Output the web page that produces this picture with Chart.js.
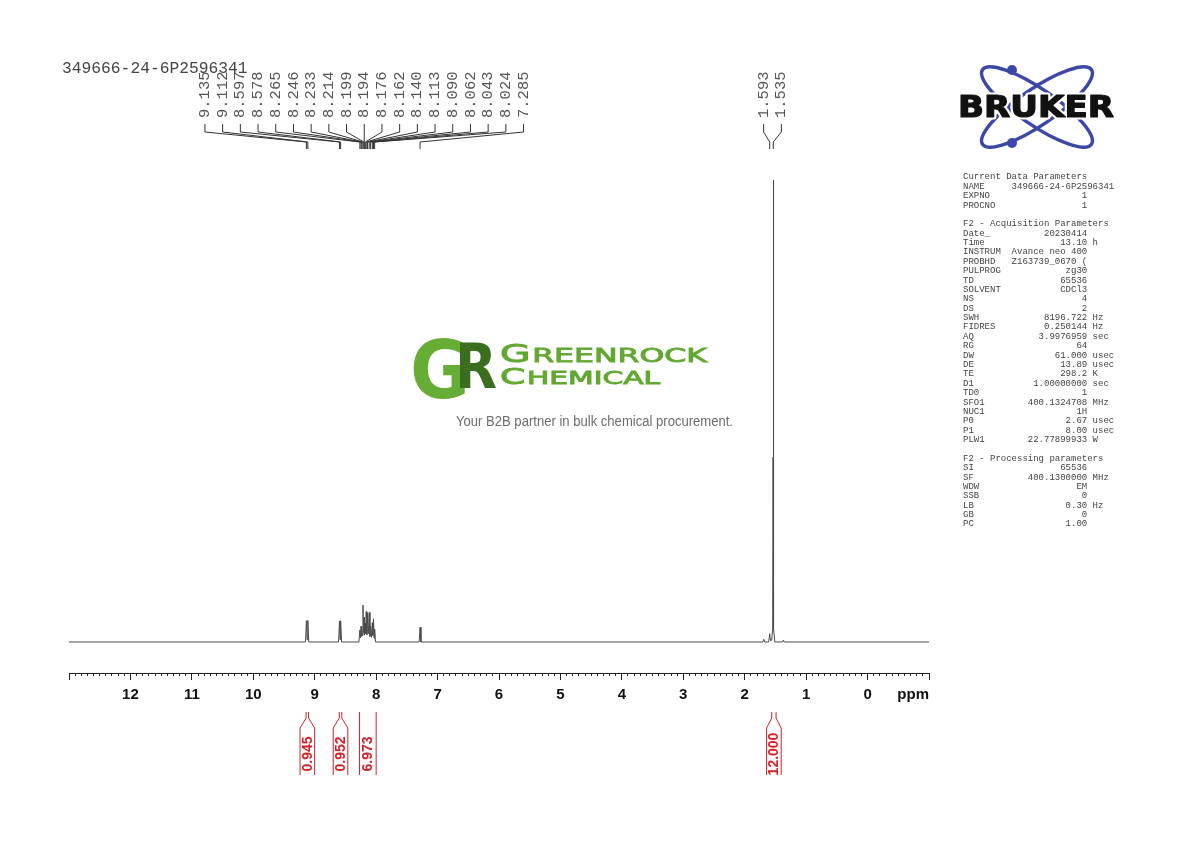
<!DOCTYPE html>
<html>
<head>
<meta charset="utf-8">
<script src="https://cdn.jsdelivr.net/npm/chart.js@4.4.1/dist/chart.umd.min.js"></script>
<style>
  html, body { margin: 0; padding: 0; background: #fff; }
  #spectrum { display: block; }
</style>
</head>
<body>
<canvas id="spectrum" width="1190" height="842"></canvas>
<script>
const sampleName = '349666-24-6P2596341';

// spectrum trace (ppm, relative intensity)
const specPpm = [
  13.0,
  9.150, 9.135, 9.124, 9.112, 9.097,
  8.612, 8.597, 8.588, 8.578, 8.563,
  8.280, 8.265, 8.255, 8.246, 8.240, 8.233, 8.224, 8.214, 8.206, 8.199,
  8.197, 8.194, 8.185, 8.176, 8.169, 8.162, 8.151, 8.140, 8.127, 8.113,
  8.101, 8.090, 8.076, 8.062, 8.052, 8.043, 8.033, 8.024, 8.010,
  7.300, 7.285, 7.270,
  1.705, 1.690, 1.675,
  1.610, 1.593, 1.580, 1.560, 1.545, 1.538, 1.535, 1.532, 1.525, 1.510,
  1.385, 1.370, 1.355,
  -1.0
];
const specInt = [
  0,
  0, 4.6, 0.5, 4.7, 0,
  0, 4.5, 0.5, 4.6, 0,
  0, 2.6, 0.9, 3.4, 1.2, 3.1, 1.4, 8.0, 2.0, 5.0,
  4.6, 5.4, 1.5, 4.0, 1.8, 6.6, 1.6, 6.2, 1.8, 6.4,
  1.2, 3.5, 1.0, 4.2, 1.4, 5.0, 0.8, 2.8, 0,
  0, 3.2, 0,
  0, 0.6, 0,
  0, 1.8, 0.3, 0.4, 3.0, 40, 100, 40, 3.0, 0,
  0, 0.4, 0,
  0
];

// peak picking labels, one list per label group
const peakGroupA = ['9.135', '9.112', '8.597', '8.578', '8.265', '8.246', '8.233', '8.214', '8.199',
  '8.194', '8.176', '8.162', '8.140', '8.113', '8.090', '8.062', '8.043', '8.024', '7.285'];
const peakGroupB = ['1.593', '1.535'];

// integrals
const intFrom = [9.14, 8.60, 8.27, 1.56];
const intTo = [9.10, 8.56, 8.00, 1.49];
const intValue = ['0.945', '0.952', '6.973', '12.000'];

// axis
const ppmMin = -1;
const ppmMax = 13;

// parameter panel
const paramLines = [
  ['Current Data Parameters'],
  ['NAME', sampleName],
  ['EXPNO', '1'],
  ['PROCNO', '1'],
  [],
  ['F2 - Acquisition Parameters'],
  ['Date_', '20230414'],
  ['Time', '13.10', 'h'],
  ['INSTRUM', 'Avance neo 400'],
  ['PROBHD', 'Z163739_0670 ('],
  ['PULPROG', 'zg30'],
  ['TD', '65536'],
  ['SOLVENT', 'CDCl3'],
  ['NS', '4'],
  ['DS', '2'],
  ['SWH', '8196.722', 'Hz'],
  ['FIDRES', '0.250144', 'Hz'],
  ['AQ', '3.9976959', 'sec'],
  ['RG', '64'],
  ['DW', '61.000', 'usec'],
  ['DE', '13.89', 'usec'],
  ['TE', '298.2', 'K'],
  ['D1', '1.00000000', 'sec'],
  ['TD0', '1'],
  ['SFO1', '400.1324708', 'MHz'],
  ['NUC1', '1H'],
  ['P0', '2.67', 'usec'],
  ['P1', '8.00', 'usec'],
  ['PLW1', '22.77899933', 'W'],
  [],
  ['F2 - Processing parameters'],
  ['SI', '65536'],
  ['SF', '400.1300000', 'MHz'],
  ['WDW', 'EM'],
  ['SSB', '0'],
  ['LB', '0.30', 'Hz'],
  ['GB', '0'],
  ['PC', '1.00']
];

const MONO = '"Liberation Mono", "DejaVu Sans Mono", monospace';
const SANS = '"Liberation Sans", Arial, sans-serif';

const drawPeakGroup = (ctx, xs, labels) => {
  const gap = 17.7;
  const px = labels.map((l) => xs.getPixelForValue(parseFloat(l)));
  const mid = (px[0] + px[px.length - 1]) / 2 + 1;
  const start = mid - gap * (labels.length - 1) / 2;
  ctx.strokeStyle = '#333';
  ctx.lineWidth = 1;
  ctx.fillStyle = '#555';
  ctx.font = '15.5px ' + MONO;
  labels.forEach((l, i) => {
    const lx = start + i * gap;
    ctx.save();
    ctx.translate(lx, 118);
    ctx.rotate(-Math.PI / 2);
    ctx.textAlign = 'left';
    ctx.textBaseline = 'middle';
    ctx.fillText(l, 0, 0);
    ctx.restore();
    ctx.beginPath();
    ctx.moveTo(lx, 124);
    ctx.lineTo(lx, 132);
    ctx.lineTo(px[i], 142);
    ctx.lineTo(px[i], 149);
    ctx.stroke();
  });
};

const drawIntegrals = (ctx, xs) => {
  ctx.strokeStyle = '#d41f26';
  ctx.fillStyle = '#d41f26';
  ctx.lineWidth = 1;
  ctx.font = 'bold 14px ' + SANS;
  intFrom.forEach((f, i) => {
    const a = xs.getPixelForValue(f);
    const b = xs.getPixelForValue(intTo[i]);
    const c = (a + b) / 2;
    const half = Math.max(7.3, (b - a) / 2);
    ctx.beginPath();
    if ((b - a) / 2 < 7.3) {
      ctx.moveTo(a, 712); ctx.lineTo(a, 718); ctx.lineTo(c - half, 728); ctx.lineTo(c - half, 775);
      ctx.moveTo(b, 712); ctx.lineTo(b, 718); ctx.lineTo(c + half, 728); ctx.lineTo(c + half, 775);
    } else {
      ctx.moveTo(a, 712); ctx.lineTo(a, 775);
      ctx.moveTo(b, 712); ctx.lineTo(b, 775);
    }
    ctx.stroke();
    ctx.save();
    ctx.translate(c + 0.5, 754);
    ctx.rotate(-Math.PI / 2);
    ctx.textAlign = 'center';
    ctx.textBaseline = 'middle';
    ctx.fillText(intValue[i], 0, 0);
    ctx.restore();
  });
};

const drawParams = (ctx) => {
  ctx.fillStyle = '#444';
  ctx.font = '9px ' + MONO;
  ctx.textAlign = 'left';
  ctx.textBaseline = 'middle';
  paramLines.forEach((p, i) => {
    if (!p.length) return;
    let s = p[0];
    if (p.length > 1) {
      s = p[1].length > 15 ? p[0].padEnd(9) + p[1] : p[0].padEnd(8) + p[1].padStart(15);
      if (p[2]) s += ' ' + p[2];
    }
    ctx.fillText(s, 963, 177 + i * 9.38);
  });
};

const fitText = (ctx, text, x, y, width) => {
  const w = ctx.measureText(text).width;
  ctx.save();
  ctx.translate(x, y);
  ctx.scale(width / w, 1);
  ctx.fillText(text, 0, 0);
  ctx.restore();
};

const drawCaps = (ctx, first, rest, x, y, bigSize, smallSize, width, color) => {
  ctx.font = bigSize + 'px "DejaVu Sans"';
  const w1 = ctx.measureText(first).width;
  ctx.font = smallSize + 'px "DejaVu Sans"';
  const w2 = ctx.measureText(rest).width;
  const k = width / (w1 + w2 + 1);
  ctx.save();
  ctx.fillStyle = color;
  ctx.strokeStyle = color;
  ctx.lineWidth = 0.9;
  ctx.translate(x, y);
  ctx.scale(k, 1);
  ctx.font = bigSize + 'px "DejaVu Sans"';
  ctx.fillText(first, 0, 0);
  ctx.strokeText(first, 0, 0);
  ctx.font = smallSize + 'px "DejaVu Sans"';
  ctx.fillText(rest, w1 + 1, 0);
  ctx.strokeText(rest, w1 + 1, 0);
  ctx.restore();
};

const drawWatermark = (ctx) => {
  ctx.save();
  ctx.textAlign = 'left';
  ctx.textBaseline = 'alphabetic';
  ctx.fillStyle = '#66ad35';
  ctx.font = 'bold 80px "DejaVu Sans"';
  fitText(ctx, 'G', 410, 398, 60);
  ctx.fillStyle = '#3c6e20';
  ctx.font = 'bold 63px "DejaVu Sans"';
  fitText(ctx, 'R', 455, 388, 42);
  drawCaps(ctx, 'G', 'REENROCK', 500, 362, 25, 20, 207, '#62a832');
  drawCaps(ctx, 'C', 'HEMICAL', 500, 384, 22, 18, 160, '#62a832');
  ctx.fillStyle = '#6d6d6d';
  ctx.font = '14px ' + SANS;
  fitText(ctx, 'Your B2B partner in bulk chemical procurement.', 456, 426, 277);
  ctx.restore();
};

const drawBruker = (ctx) => {
  ctx.save();
  ctx.strokeStyle = '#3b48a8';
  ctx.lineWidth = 3.5;
  [0.6, -0.6].forEach((r) => {
    ctx.beginPath();
    ctx.ellipse(1037, 107, 66, 18, r, 0, Math.PI * 2);
    ctx.stroke();
  });
  ctx.fillStyle = '#3b48a8';
  [[1012, 70], [1012, 143]].forEach(([x, y]) => {
    ctx.beginPath();
    ctx.arc(x, y, 5, 0, Math.PI * 2);
    ctx.fill();
  });
  ctx.font = 'bold 30px "DejaVu Sans"';
  ctx.textBaseline = 'alphabetic';
  const w = ctx.measureText('BRUKER').width;
  ctx.translate(958, 117);
  ctx.scale(156 / w, 1);
  ctx.lineJoin = 'round';
  ctx.strokeStyle = '#fff';
  ctx.lineWidth = 5;
  ctx.strokeText('BRUKER', 0, 0);
  ctx.fillStyle = '#111';
  ctx.strokeStyle = '#111';
  ctx.lineWidth = 1.2;
  ctx.fillText('BRUKER', 0, 0);
  ctx.strokeText('BRUKER', 0, 0);
  ctx.restore();
};

const overlay = {
  id: 'overlay',
  afterDraw(chart) {
    const ctx = chart.ctx;
    const xs = chart.scales.x;
    ctx.save();
    // title
    ctx.fillStyle = '#444';
    ctx.font = '16.3px ' + MONO;
    ctx.textBaseline = 'alphabetic';
    ctx.fillText(sampleName, 62, 73);
    drawPeakGroup(ctx, xs, peakGroupA);
    drawPeakGroup(ctx, xs, peakGroupB);
    drawIntegrals(ctx, xs);
    // unit label next to the tick labels
    ctx.fillStyle = '#111';
    ctx.font = 'bold 15px ' + SANS;
    ctx.textAlign = 'right';
    ctx.textBaseline = 'middle';
    ctx.fillText('ppm', xs.right, 695);
    ctx.textAlign = 'left';
    drawParams(ctx);
    drawWatermark(ctx);
    drawBruker(ctx);
    ctx.restore();
  }
};

const points = specPpm.map((p, i) => ({ x: p, y: specInt[i] }));

new Chart(document.getElementById('spectrum'), {
  type: 'scatter',
  data: {
    datasets: [{
      data: points,
      showLine: true,
      borderColor: '#4a4a4a',
      borderWidth: 1,
      pointRadius: 0,
      clip: false,
    }],
  },
  options: {
    responsive: false,
    maintainAspectRatio: false,
    animation: false,
    layout: { padding: { left: 69, right: 261, top: 180, bottom: 0 } },
    scales: {
      x: {
        type: 'linear',
        position: 'bottom',
        min: ppmMin,
        max: ppmMax,
        reverse: true,
        weight: 1,
        afterFit: (s) => { s.height = 169; },
        border: { color: '#222', width: 1 },
        grid: { drawOnChartArea: false, tickLength: 7, color: '#222' },
        ticks: {
          stepSize: 1,
          autoSkip: false,
          maxRotation: 0,
          padding: 6,
          color: '#111',
          font: { family: SANS, size: 15, weight: 'bold' },
          callback: (v) => (v > 12.5 || v < -0.5) ? '' : String(v),
        },
      },
      xMinor: {
        type: 'linear',
        position: 'bottom',
        min: ppmMin,
        max: ppmMax,
        reverse: true,
        weight: 0,
        afterFit: (s) => { s.height = 0; },
        border: { display: false },
        grid: { drawOnChartArea: false, tickLength: 3, color: '#222' },
        ticks: { display: false, stepSize: 0.1, autoSkip: false },
      },
      y: { display: false, min: -6.71, max: 100 },
    },
    plugins: {
      legend: { display: false },
      tooltip: { enabled: false },
    },
  },
  plugins: [overlay],
});
</script>
</body>
</html>
